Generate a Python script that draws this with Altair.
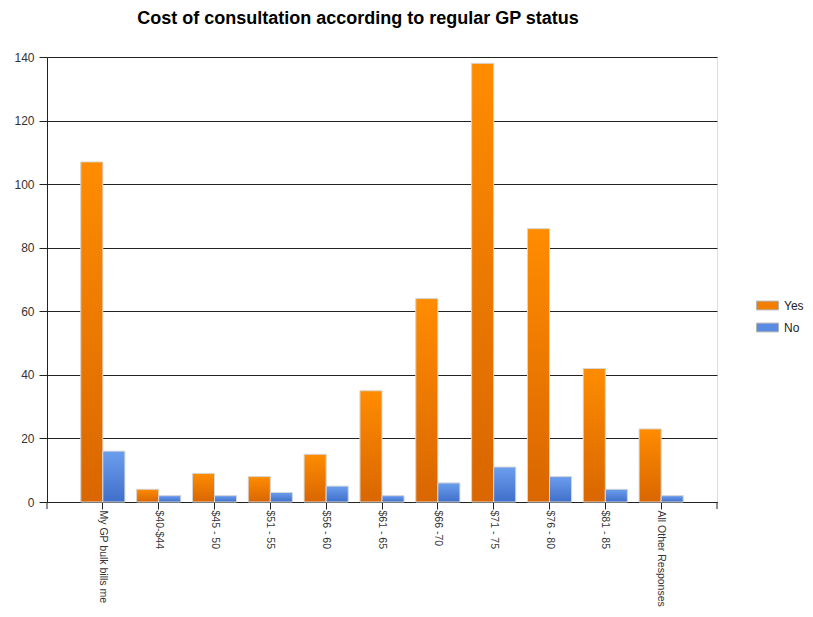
import altair as alt
import pandas as pd

categories = ["My GP bulk bills me", "$40-$44", "$45 - 50", "$51 - 55", "$56 - 60",
              "$61 - 65", "$66 -70", "$71 - 75", "$76 - 80", "$81 - 85", "All Other Responses"]
yes_values = [107, 4, 9, 8, 15, 35, 64, 138, 86, 42, 23]
no_values = [16, 2, 2, 3, 5, 2, 6, 11, 8, 4, 2]
series_names = ["Yes", "No"]
y_ticks = [0, 20, 40, 60, 80, 100, 120, 140]

rows = []
for c, yv, nv in zip(categories, yes_values, no_values):
    rows.append({"category": c, "series": "Yes", "value": yv})
    rows.append({"category": c, "series": "No", "value": nv})
df = pd.DataFrame(rows)

FONT = "Liberation Sans"

orange_grad = alt.Gradient(
    gradient="linear", x1=0, x2=0, y1=0, y2=1,
    stops=[alt.GradientStop(color="#FF8C00", offset=0),
           alt.GradientStop(color="#D96600", offset=1)])
blue_grad = alt.Gradient(
    gradient="linear", x1=0, x2=0, y1=0, y2=1,
    stops=[alt.GradientStop(color="#6C9EEE", offset=0),
           alt.GradientStop(color="#3F6FC9", offset=1)])

x_enc = alt.X("category:N", sort=categories,
              scale=alt.Scale(paddingInner=0.21, paddingOuter=0.605),
              axis=alt.Axis(title=None, labelAngle=90, labelPadding=1, tickSize=7,
                            labelLimit=300, labelFont=FONT, labelFontSize=10.5,
                            labelColor="#333", domainColor="#222", tickColor="#222"))
xo_enc = alt.XOffset("series:N", sort=series_names, scale=alt.Scale(domain=series_names))
y_enc = alt.Y("value:Q", scale=alt.Scale(domain=[0, 140]),
              axis=alt.Axis(title=None, values=y_ticks, grid=True, gridColor="#222",
                            tickSize=8, labelPadding=5, labelFont=FONT, labelFontSize=12,
                            labelColor="#333", domainColor="#222", tickColor="#222"))

base = alt.Chart(df).encode(x=x_enc, xOffset=xo_enc, y=y_enc)

legend_layer = base.mark_bar().encode(
    color=alt.Color("series:N", sort=series_names,
                    scale=alt.Scale(domain=series_names, range=["#F27E00", "#5A8BE2"]),
                    legend=alt.Legend(title=None, orient="none", legendX=709, legendY=237,
                                      symbolType="M-1,-0.4H1V0.4H-1Z", symbolSize=484,
                                      labelOffset=5, labelFont=FONT, labelFontSize=12,
                                      labelColor="#222", rowPadding=4, padding=0,
                                      symbolStrokeColor="#B5B5B5", symbolStrokeWidth=1,
                                      symbolOpacity=1)))

yes_layer = base.transform_filter(alt.datum.series == "Yes").mark_bar(
    fill=orange_grad, stroke="#D8D8D8", strokeWidth=1)
no_layer = base.transform_filter(alt.datum.series == "No").mark_bar(
    fill=blue_grad, stroke="#D8D8D8", strokeWidth=1)

edge = pd.DataFrame({"e": [0]})
left_tick = alt.Chart(edge).mark_rule(color="#222").encode(
    x=alt.value(0), y=alt.value(445), y2=alt.value(452))
right_tick = alt.Chart(edge).mark_rule(color="#222").encode(
    x=alt.value(670), y=alt.value(445), y2=alt.value(452))

chart = alt.layer(legend_layer, yes_layer, no_layer, left_tick, right_tick).properties(
    width=670, height=445,
    title=alt.TitleParams("Cost of consultation according to regular GP status",
                          font=FONT, fontSize=18, fontWeight="bold", color="#000",
                          anchor="middle", dx=-24, offset=23),
    autosize=alt.AutoSizeParams(type="none"),
    padding={"left": 39, "top": 49, "right": 88, "bottom": 107},
).configure_view(strokeWidth=0).configure(background="white")

chart.save("out.html", embed_options={"renderer": "svg", "actions": False})
